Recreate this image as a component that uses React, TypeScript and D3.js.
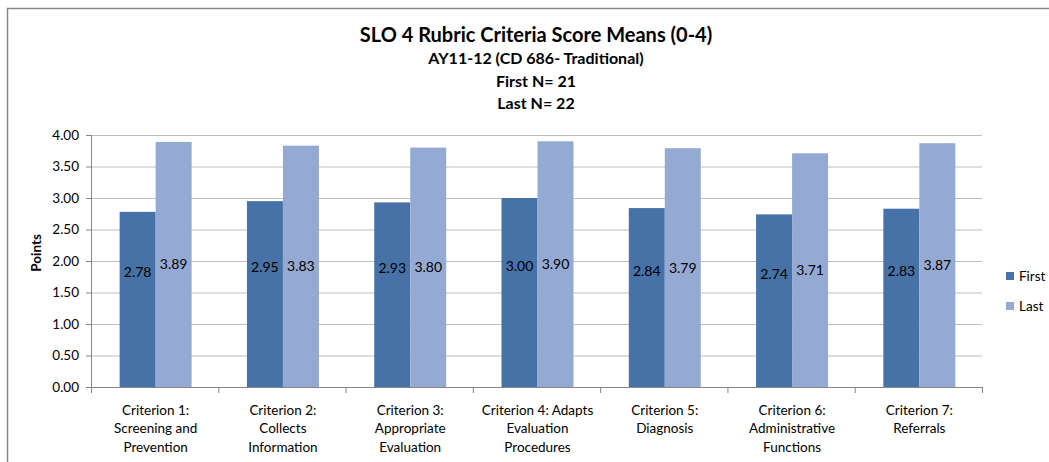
import React from "react";
import * as d3 from "d3";

const categories: string[][] = [
  ["Criterion 1:", "Screening and", "Prevention"],
  ["Criterion 2:", "Collects", "Information"],
  ["Criterion 3:", "Appropriate", "Evaluation"],
  ["Criterion 4:  Adapts", "Evaluation", "Procedures"],
  ["Criterion 5:", "Diagnosis"],
  ["Criterion 6:", "Administrative", "Functions"],
  ["Criterion 7:", "Referrals"],
];
const firstValues = [2.78, 2.95, 2.93, 3.0, 2.84, 2.74, 2.83];
const lastValues = [3.89, 3.83, 3.8, 3.9, 3.79, 3.71, 3.87];
const seriesNames = ["First", "Last"];
const yTicks = [0, 0.5, 1, 1.5, 2, 2.5, 3, 3.5, 4];
const titleLines = ["SLO 4 Rubric Criteria Score Means (0-4)", "AY11-12 (CD 686- Traditional)", "First N= 21", "Last N= 22"];

const colors = ["#4672A8", "#95AAD3"];
const FONT = "Lato, 'Open Sans', sans-serif";

export default function App() {
  const W = 1049, H = 462;
  const left = 91, right = 982, top = 135, bottom = 387;
  const x = d3.scaleBand<number>().domain(d3.range(categories.length)).range([left, right]).paddingInner(0).paddingOuter(0);
  const y = d3.scaleLinear().domain([0, 4]).range([bottom, top]);
  const bw = 36;
  const series = [firstValues, lastValues];

  return (
    <svg width={W} height={H} style={{ position: "absolute", left: 0, top: 0 }} fontFamily={FONT}>
      <rect x={0} y={0} width={W} height={H} fill="#fff" />
      <rect x={7.5} y={8.5} width={W + 10} height={H + 10} fill="none" stroke="#868686" strokeWidth={1.5} />
      {titleLines.map((t, i) => (
        <text key={i} x={536} y={i === 0 ? 42 : 64 + (i - 1) * 22.5} textAnchor="middle" fontWeight="bold" fontSize={i === 0 ? 20 : 16} fill="#000">{t}</text>
      ))}
      {yTicks.map((t) => (
        <g key={t}>
          <line x1={left} x2={right} y1={y(t) + 0.5} y2={y(t) + 0.5} stroke={t === 0 ? "#868686" : "#BFBFBF"} strokeWidth={1} />
          <line x1={left - 5} x2={left} y1={y(t) + 0.5} y2={y(t) + 0.5} stroke="#868686" />
          <text x={79} y={y(t) + 4.5} textAnchor="end" fontSize={13.5} fill="#000">{t.toFixed(2)}</text>
        </g>
      ))}
      <line x1={left + 0.5} x2={left + 0.5} y1={top} y2={bottom} stroke="#868686" />
      {d3.range(categories.length + 1).map((i) => {
        const xx = left + i * x.bandwidth();
        return <line key={i} x1={xx + 0.5} x2={xx + 0.5} y1={bottom} y2={bottom + 6} stroke="#868686" />;
      })}
      <text transform={`translate(41,253) rotate(-90)`} textAnchor="middle" fontWeight="bold" fontSize={13.5} fill="#000">Points</text>
      {categories.map((c, i) => {
        const cx = (x(i) as number) + x.bandwidth() / 2 + 1;
        return (
          <g key={i}>
            {series.map((s, si) => {
              const bx = cx - bw + si * bw;
              const v = s[i];
              const ly = si === 0 ? y(v / 2) - 27 : y(v / 2);
              return (
                <g key={si}>
                  <rect x={bx} y={y(v)} width={bw} height={bottom - y(v)} fill={colors[si]} />
                  <text x={bx + bw / 2} y={ly + 5} textAnchor="middle" fontSize={14} fill="#000">{v.toFixed(2)}</text>
                </g>
              );
            })}
            {c.map((line, li) => (
              <text key={li} x={cx} y={414.5 + li * 18.5} textAnchor="middle" fontSize={13.5} fill="#000">{line}</text>
            ))}
          </g>
        );
      })}
      {seriesNames.map((n, i) => (
        <g key={n}>
          <rect x={1006} y={272 + i * 30} width={8} height={8} fill={colors[i]} />
          <text x={1019} y={281 + i * 30} fontSize={13.5} fill="#000">{n}</text>
        </g>
      ))}
    </svg>
  );
}
